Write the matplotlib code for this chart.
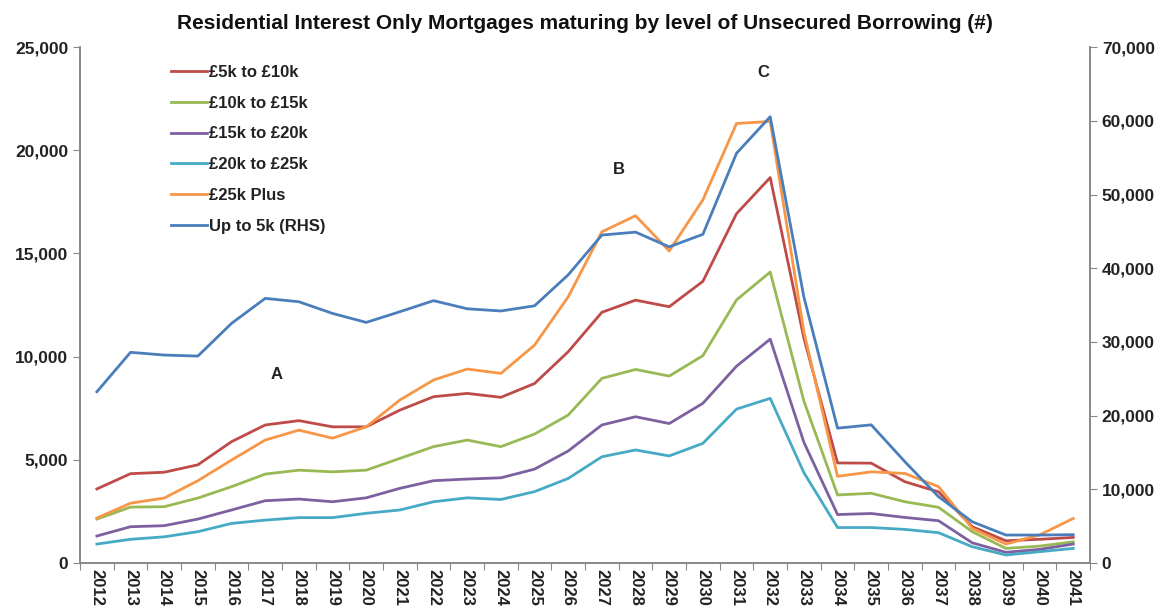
import matplotlib
matplotlib.use("Agg")
import matplotlib.pyplot as plt
from matplotlib.ticker import FuncFormatter, MultipleLocator
import numpy as np

plt.rcParams['font.family'] = ['Liberation Sans', 'DejaVu Sans']

years = [str(y) for y in range(2012, 2042)]

# left axis series
gbp_5k_10k = [3590, 4330, 4400, 4760, 5880, 6690, 6900, 6600, 6600, 7410, 8060, 8220, 8030, 8700,
              10240, 12150, 12740, 12420, 13650, 16930, 18680, 10900, 4850, 4840, 3940, 3450,
              1760, 1080, 1150, 1240]
gbp_10k_15k = [2130, 2710, 2730, 3150, 3700, 4310, 4500, 4420, 4500, 5070, 5640, 5960, 5640, 6250,
               7170, 8950, 9380, 9060, 10050, 12750, 14100, 7850, 3300, 3380, 2970, 2700,
               1520, 710, 820, 1030]
gbp_15k_20k = [1310, 1760, 1810, 2130, 2570, 3020, 3100, 2970, 3160, 3620, 3990, 4070, 4130, 4550,
               5430, 6690, 7090, 6760, 7740, 9540, 10850, 5850, 2350, 2400, 2210, 2050,
               980, 520, 660, 920]
gbp_20k_25k = [920, 1150, 1270, 1520, 1920, 2080, 2200, 2200, 2410, 2570, 2970, 3160, 3080, 3460,
               4100, 5150, 5480, 5190, 5800, 7460, 7980, 4380, 1720, 1720, 1630, 1470,
               790, 390, 550, 710]
gbp_25k_plus = [2180, 2900, 3150, 3990, 4990, 5960, 6440, 6050, 6600, 7900, 8870, 9400, 9190, 10560,
                12900, 16050, 16830, 15120, 17600, 21300, 21400, 11200, 4200, 4420, 4340, 3700,
                1680, 920, 1360, 2160]
# right axis series
up_to_5k = [23240, 28590, 28220, 28080, 32520, 35910, 35450, 33870, 32650, 34100, 35600, 34500,
            34200, 34900, 39100, 44500, 44900, 42900, 44600, 55600, 60560, 36100, 18300, 18750,
            13750, 9000, 5600, 3800, 3800, 3850]

left_series = [
    ("£5k to £10k", gbp_5k_10k, "#BE4B48"),
    ("£10k to £15k", gbp_10k_15k, "#98B954"),
    ("£15k to £20k", gbp_15k_20k, "#7D60A0"),
    ("£20k to £25k", gbp_20k_25k, "#46AAC5"),
    ("£25k Plus", gbp_25k_plus, "#F79646"),
]

notes = [("A", 5.35, 9160), ("B", 15.5, 19090), ("C", 19.8, 23790)]

fig = plt.figure(figsize=(11.6, 6.12), dpi=100)
ax = fig.add_axes([0.069, 0.080, 0.8707, 0.843])
ax2 = ax.twinx()

x = np.arange(len(years))
handles = []
for name, vals, col in left_series:
    h, = ax.plot(x, vals, color=col, lw=2.0, label=name)
    handles.append(h)
h, = ax2.plot(x, up_to_5k, color="#4A7EBB", lw=2.0, label="Up to 5k (RHS)")
handles.append(h)

ax.set_xlim(-0.5, len(years) - 0.5)
ax.set_ylim(0, 25000)
ax2.set_ylim(0, 70000)
ax.yaxis.set_major_locator(MultipleLocator(5000))
ax2.yaxis.set_major_locator(MultipleLocator(10000))
fmt = FuncFormatter(lambda v, p: f"{int(v):,}")
ax.yaxis.set_major_formatter(fmt)
ax2.yaxis.set_major_formatter(fmt)

# category ticks between labels
ax.set_xticks(np.arange(-0.5, len(years)), minor=False)
ax.set_xticklabels([])
ax.set_xticks(x, minor=True)
ax.set_xticklabels(years, minor=True, rotation=-90, fontsize=12, fontweight='bold', color='#222222')
ax.tick_params(axis='x', which='major', length=5, color='#888888')
ax.tick_params(axis='x', which='minor', length=0, pad=4)

for a in (ax, ax2):
    a.spines['top'].set_visible(False)
    for s in ('left', 'right', 'bottom'):
        a.spines[s].set_color('#888888')
        a.spines[s].set_linewidth(1.2)
ax.tick_params(axis='y', length=5, color='#888888', labelsize=12.5, labelcolor='#222222')
ax2.tick_params(axis='y', length=5, color='#888888', labelsize=12.5, labelcolor='#222222')
for lab in ax.get_yticklabels() + ax2.get_yticklabels():
    lab.set_fontweight('bold')

for txt, xi, yi in notes:
    ax.text(xi, yi, txt, ha='center', va='center', fontsize=12, fontweight='bold', color='#222222')

ax.set_title("Residential Interest Only Mortgages maturing by level of Unsecured Borrowing (#)",
             fontsize=15, fontweight='bold', color='#111111', pad=13)

leg = ax.legend(handles=handles, loc='upper left', bbox_to_anchor=(0.075, 0.995), frameon=False,
                prop={'weight': 'bold', 'size': 12}, handlelength=2.2, handletextpad=0.1,
                labelspacing=0.95)
for t in leg.get_texts():
    t.set_color('#222222')

fig.savefig("out.png", dpi=100)
